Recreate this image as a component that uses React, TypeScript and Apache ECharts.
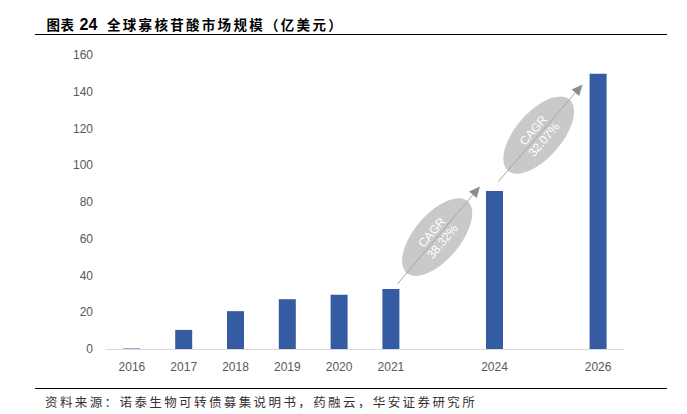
import React, { useEffect, useRef } from "react";
import * as echarts from "echarts";

const categories = ["2016", "2017", "2018", "2019", "2020", "2021", "", "2024", "", "2026"];
const marketSize = [0.3, 10.4, 20.6, 27.1, 29.5, 32.6, null, 86, null, 149.8];
const yTicks = { min: 0, max: 160, interval: 20 };
const titleParts = ["图表", "24", "全球寡核苷酸市场规模（亿美元）"];
const sourceText = "资料来源：诺泰生物可转债募集说明书，药融云，华安证券研究所";
// CAGR annotations: [label, start (categoryIndex, value), end (categoryIndex, value)]
const cagrLabels = ["CAGR\n38.32%", "CAGR\n32.07%"];
const cagrStart = [[5.13, 35.5], [7.07, 91]];
const cagrEnd = [[6.72, 88.5], [8.7, 144]];

function spacedText(text: string, x0: number, y: number, pitch: number, style: any) {
  const out: any[] = [];
  let x = x0;
  for (const ch of Array.from(text)) {
    out.push({ type: "text", x, y, style: { ...style, text: ch, verticalAlign: "middle" } });
    x += pitch;
  }
  return out;
}

export default function App() {
  const ref = useRef<HTMLDivElement>(null);
  useEffect(() => {
    document.body.style.margin = "0";
    const chart = echarts.init(ref.current!, null, { renderer: "svg" });
    const font = "'Noto Sans CJK SC', 'Noto Sans', sans-serif";
    const latin = "Arial, 'Liberation Sans', sans-serif";
    chart.setOption({
      animation: false,
      backgroundColor: "#ffffff",
      grid: { left: 106, right: 63, top: 55, bottom: 65, containLabel: false },
      xAxis: {
        type: "category",
        data: categories,
        axisLine: { show: true, lineStyle: { color: "#d9d9d9", width: 1 } },
        axisTick: { show: false },
        axisLabel: { color: "#595959", fontSize: 12, margin: 12, fontFamily: latin, interval: 0 },
      },
      yAxis: {
        type: "value",
        min: yTicks.min,
        max: yTicks.max,
        interval: yTicks.interval,
        axisLine: { show: false },
        axisTick: { show: false },
        splitLine: { show: false },
        axisLabel: { color: "#595959", fontSize: 12, margin: 13, fontFamily: latin },
      },
      series: [
        {
          type: "bar",
          data: marketSize,
          barWidth: 17,
          itemStyle: { color: "#355ca3" },
        },
      ],
    });

    const toPx = (ci: number, v: number) => {
      const p0 = chart.convertToPixel({ gridIndex: 0 }, [0, v]) as number[];
      const p1 = chart.convertToPixel({ gridIndex: 0 }, [1, v]) as number[];
      return [p0[0] + (p1[0] - p0[0]) * ci, p0[1]];
    };

    const annot: any[] = [];
    cagrLabels.forEach((label, i) => {
      const s = toPx(cagrStart[i][0], cagrStart[i][1]);
      const e = toPx(cagrEnd[i][0], cagrEnd[i][1]);
      const dx = e[0] - s[0];
      const dy = e[1] - s[1];
      const len = Math.sqrt(dx * dx + dy * dy);
      const ux = dx / len;
      const uy = dy / len;
      const ang = Math.atan2(-dy, dx);
      const head = 11;
      const hw = 5;
      const bx = e[0] - ux * head;
      const by = e[1] - uy * head;
      annot.push({
        type: "line",
        shape: { x1: s[0], y1: s[1], x2: bx, y2: by },
        style: { stroke: "#a6a6a6", lineWidth: 1 },
        z: 10,
      });
      annot.push({
        type: "polygon",
        shape: {
          points: [
            [e[0], e[1]],
            [bx - uy * hw, by + ux * hw],
            [bx + uy * hw, by - ux * hw],
          ],
        },
        style: { fill: "#8c8c8c" },
        z: 10,
      });
      const cx = s[0] + dx * 0.48;
      const cy = s[1] + dy * 0.48;
      annot.push({
        type: "group",
        x: cx,
        y: cy,
        rotation: ang,
        z: 11,
        children: [
          {
            type: "ellipse",
            shape: { cx: 0, cy: 0, rx: 47, ry: 23 },
            style: { fill: "#c9c9c9" },
          },
          {
            type: "text",
            x: 0,
            y: 0,
            style: {
              text: label,
              fill: "#ffffff",
              fontSize: 12,
              lineHeight: 14,
              fontFamily: latin,
              align: "center",
              verticalAlign: "middle",
            },
          },
        ],
      });
    });

    const titleStyle = { fill: "#000000", fontSize: 13.5, fontWeight: "bold", fontFamily: font };

    chart.setOption({
      graphic: [
        ...spacedText(titleParts[0], 46.5, 24, 14, titleStyle),
        { type: "text", x: 79.5, y: 24, style: { ...titleStyle, text: titleParts[1], fontSize: 16, fontFamily: latin, verticalAlign: "middle" } },
        ...spacedText(titleParts[2], 107, 24, 15.8, titleStyle),
        {
          type: "line",
          shape: { x1: 35, y1: 34.5, x2: 667, y2: 34.5 },
          style: { stroke: "#000000", lineWidth: 1 },
        },
        {
          type: "line",
          shape: { x1: 35, y1: 388.5, x2: 667, y2: 388.5 },
          style: { stroke: "#000000", lineWidth: 1 },
        },
        ...spacedText(sourceText, 45, 401, 14.9, {
          fill: "#333333",
          fontSize: 12.5,
          fontFamily: font,
        }),
        ...annot,
      ],
    });
    return () => chart.dispose();
  }, []);
  return <div ref={ref} style={{ width: 687, height: 414 }} />;
}
